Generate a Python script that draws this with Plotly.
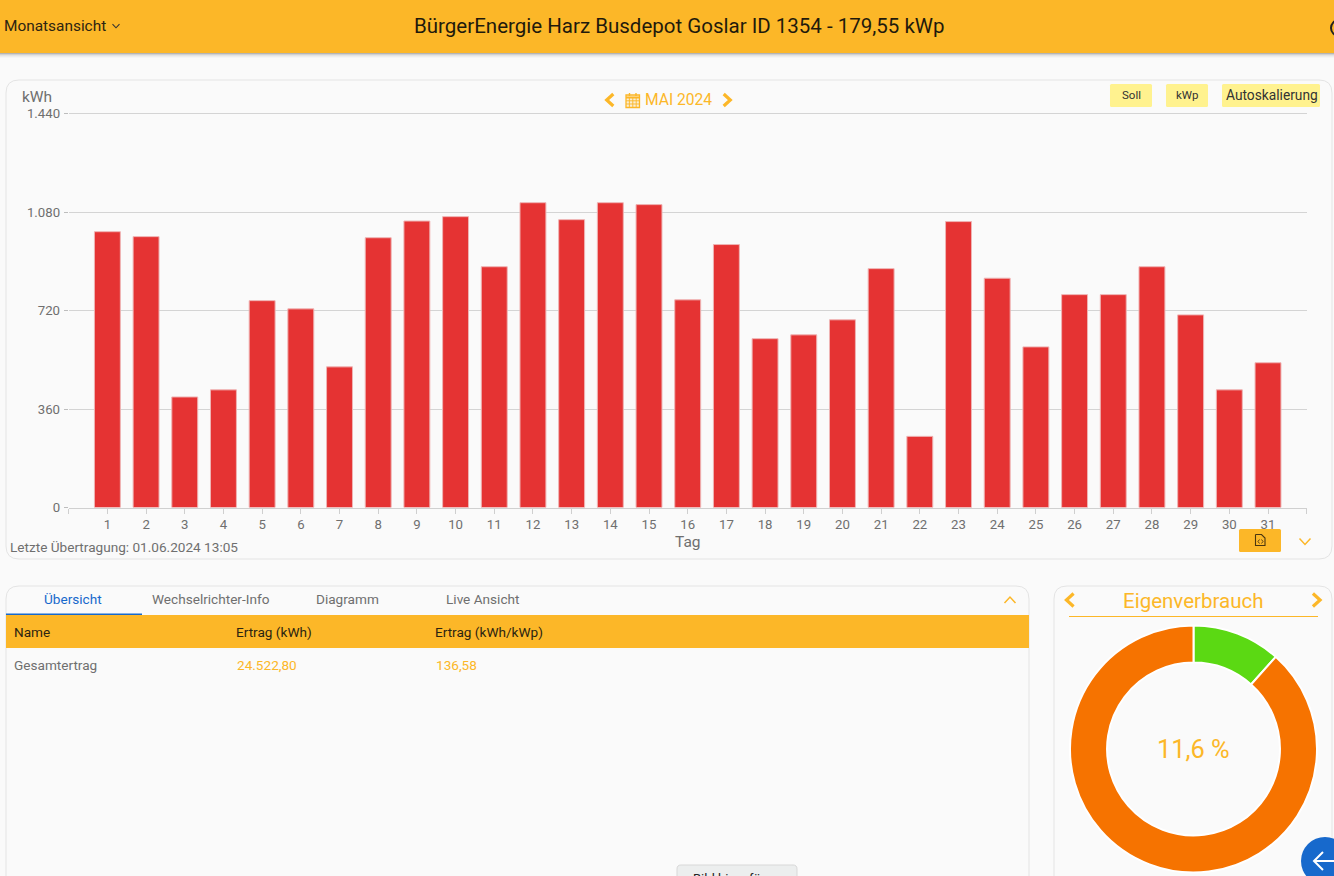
import plotly.graph_objects as go

W, H = 1334, 876

days = list(range(1, 32))
ertrag = [1008, 990, 404, 430, 756, 726, 514, 986, 1047, 1063, 880, 1114, 1052, 1114, 1107, 759,
          961, 617, 631, 686, 873, 260, 1045, 838, 587, 778, 778, 880, 704, 430, 529]
y_ticks = [0, 360, 720, 1080, 1440]
y_labels = ["0", "360", "720", "1.080", "1.440"]
x_ticks = list(range(0, 33))
x_labels = [""] + [str(d) for d in days] + [""]
pie_labels = ["Eigenverbrauch", "Einspeisung"]
pie_values = [11.6, 88.4]

ORANGE = "#FCB728"
GREY = "#6f6f6f"
BG = "#FAFAFA"
FONT = "Roboto"


def fx(x):
    return x / W


def fy(y):
    return 1 - y / H


def path(points, close=False):
    s = "M " + " L ".join(f"{fx(x):.5f},{fy(y):.5f}" for x, y in points)
    return s + (" Z" if close else "")


def rrect(x0, y0, x1, y1, r):
    k = [(x0 + r, y0), (x1 - r, y0), (x1, y0 + r), (x1, y1 - r), (x1 - r, y1), (x0 + r, y1), (x0, y1 - r), (x0, y0 + r)]
    p = lambda q: f"{fx(q[0]):.5f},{fy(q[1]):.5f}"
    return (f"M {p(k[0])} L {p(k[1])} Q {p((x1, y0))} {p(k[2])} L {p(k[3])} Q {p((x1, y1))} {p(k[4])} "
            f"L {p(k[5])} Q {p((x0, y1))} {p(k[6])} L {p(k[7])} Q {p((x0, y0))} {p(k[0])} Z")


shapes = []


def rect(x0, y0, x1, y1, fill, layer="below"):
    shapes.append(dict(type="rect", xref="paper", yref="paper", x0=fx(x0), x1=fx(x1), y0=fy(y0), y1=fy(y1),
                       fillcolor=fill, line=dict(width=0), layer=layer))


def round_box(x0, y0, x1, y1, r, fill=None, line=None):
    shapes.append(dict(type="path", xref="paper", yref="paper", path=rrect(x0, y0, x1, y1, r),
                       fillcolor=fill or "rgba(0,0,0,0)",
                       line=dict(color=line or "rgba(0,0,0,0)", width=1 if line else 0), layer="below"))


def poly(points, color, width=1.0, layer="above"):
    shapes.append(dict(type="path", xref="paper", yref="paper", path=path(points),
                       line=dict(color=color, width=width), layer=layer))


def chev_left(cx, cy, s, color, w=3.2):
    poly([(cx + s * 0.55, cy - s), (cx - s * 0.55, cy), (cx + s * 0.55, cy + s)], color, w)


def chev_right(cx, cy, s, color, w=3.2):
    poly([(cx - s * 0.55, cy - s), (cx + s * 0.55, cy), (cx - s * 0.55, cy + s)], color, w)


def chev_down(cx, cy, s, h, color, w=1.3):
    poly([(cx - s, cy - h), (cx, cy + h), (cx + s, cy - h)], color, w)


def chev_up(cx, cy, s, h, color, w=1.3):
    poly([(cx - s, cy + h), (cx, cy - h), (cx + s, cy + h)], color, w)


# header with its shadow
for i, a in enumerate([0.28, 0.16, 0.09, 0.05, 0.02]):
    rect(0, 53 + i, W, 54 + i, f"rgba(0,0,0,{a})")
rect(0, 0, W, 53, ORANGE)
shapes.append(dict(type="circle", xref="paper", yref="paper", x0=fx(1331), x1=fx(1347), y0=fy(36), y1=fy(20),
                   line=dict(color="#222", width=2), fillcolor="rgba(0,0,0,0)", layer="above"))
chev_down(116, 26, 3.5, 1.8, "#333", 1.1)

# panels
BORDER = "#E4E4E4"
round_box(6, 80, 1332, 559, 13, line=BORDER)
round_box(6, 586, 1029, 900, 13, line=BORDER)
round_box(1054, 586, 1332, 900, 13, line=BORDER)

# month navigation
chev_left(610, 100, 6, ORANGE)
chev_right(727, 100, 6, ORANGE)
shapes.append(dict(type="rect", xref="paper", yref="paper", x0=fx(626), x1=fx(639.5), y0=fy(107.5), y1=fy(95),
                   line=dict(color=ORANGE, width=1.3), fillcolor="rgba(252,183,40,0.18)", layer="above"))
poly([(626, 97.5), (639.5, 97.5)], ORANGE, 2)
poly([(626, 100.8), (639.5, 100.8)], ORANGE, 0.9)
poly([(626, 104), (639.5, 104)], ORANGE, 0.9)
poly([(629.4, 98), (629.4, 107.5)], ORANGE, 0.9)
poly([(632.8, 98), (632.8, 107.5)], ORANGE, 0.9)
poly([(636.2, 98), (636.2, 107.5)], ORANGE, 0.9)
poly([(629.5, 93), (629.5, 96)], ORANGE, 1.4)
poly([(636, 93), (636, 96)], ORANGE, 1.4)

# yellow buttons
YEL = "#FFF28F"
round_box(1110, 84, 1152, 107, 1.5, fill=YEL)
round_box(1166, 84, 1208, 107, 1.5, fill=YEL)
round_box(1222, 84, 1320, 107, 1.5, fill=YEL)

# export button
ICON = "#4a3610"
round_box(1239, 529, 1281, 552, 1.5, fill=ORANGE)
poly([(1255.5, 534.5), (1261.5, 534.5), (1265, 538), (1265, 545.5), (1255.5, 545.5), (1255.5, 534.5)], ICON, 1.1)
poly([(1259.5, 539.5), (1258, 541.5), (1259.5, 543.5)], ICON, 0.9)
poly([(1261.5, 539.5), (1263, 541.5), (1261.5, 543.5)], ICON, 0.9)
chev_down(1305, 541.5, 5.5, 3, ORANGE, 1.5)

# table
rect(6, 615, 1029, 648, ORANGE)
rect(6, 613.5, 142, 615, "#1769CC")
chev_up(1010, 600, 5.5, 3, ORANGE, 1.5)

# donut header
chev_left(1070, 600, 6.5, ORANGE)
chev_right(1316.5, 600, 6.5, ORANGE)
rect(1069, 616, 1318, 617, ORANGE)

# bottom button (cut off by the page edge)
round_box(677, 865, 797, 895, 4, fill="#ECEEEE", line="#D8D8D8")

# blue floating button
shapes.append(dict(type="circle", xref="paper", yref="paper", x0=fx(1301), x1=fx(1349), y0=fy(885), y1=fy(837),
                   fillcolor="#1769CC", line=dict(width=0), layer="above"))
poly([(1323, 852), (1314, 861), (1323, 870)], "white", 2)
poly([(1314, 861), (1334, 861)], "white", 2)

annotations = []


def text(x, y, s, size, color, anchor="left"):
    annotations.append(dict(xref="paper", yref="paper", x=fx(x - (1 if anchor == "left" else 0)), y=fy(y), text=s,
                            showarrow=False, xanchor=anchor, yanchor="middle", borderpad=0,
                            font=dict(family=FONT, size=size, color=color)))


text(4, 26, "Monatsansicht", 15.4, "#2c2411")
text(679.5, 26, "BürgerEnergie Harz Busdepot Goslar ID 1354 - 179,55 kWp", 20.5, "#1f1a0c", "center")
text(22, 97, "kWh", 15.5, GREY)
text(644.5, 100, "MAI 2024", 15.6, ORANGE)
text(1131, 95.5, "Soll", 11.5, "#333", "center")
text(1187, 95.5, "kWp", 11.5, "#333", "center")
text(1272, 95.5, "Autoskalierung", 13.75, "#333", "center")
text(687.5, 542, "Tag", 15.5, GREY, "center")
text(10, 546.5, "Letzte Übertragung: 01.06.2024 13:05", 13.6, GREY)
text(73, 598.5, "Übersicht", 13.6, "#1769CC", "center")
text(210.5, 598.5, "Wechselrichter-Info", 13.6, GREY, "center")
text(347, 598.5, "Diagramm", 13.6, GREY, "center")
text(482.5, 598.5, "Live Ansicht", 13.6, GREY, "center")
text(14, 631.5, "Name", 13.6, "#2c2411")
text(235.5, 631.5, "Ertrag (kWh)", 13.6, "#2c2411")
text(434.5, 631.5, "Ertrag (kWh/kWp)", 13.6, "#2c2411")
text(14, 664.5, "Gesamtertrag", 13.6, GREY)
text(237, 664.5, "24.522,80", 13.6, ORANGE)
text(436, 664.5, "136,58", 13.6, ORANGE)
text(1193, 601, "Eigenverbrauch", 20.5, ORANGE, "center")
text(1193, 749, "11,6 %", 25.4, ORANGE, "center")
text(737, 878, "Bild hinzufügen", 13, "#222", "center")

fig = go.Figure()
fig.add_trace(go.Bar(x=days, y=ertrag, width=0.67, name="Ertrag",
                     marker=dict(color="#E53333", line=dict(color="#EFB4B4", width=1))))
fig.add_trace(go.Pie(labels=pie_labels, values=pie_values, hole=0.70, sort=False, direction="clockwise",
                     rotation=0, textinfo="none", showlegend=False,
                     marker=dict(colors=["#5BD913", "#F67300"], line=dict(color="white", width=2)),
                     domain=dict(x=[fx(1070), fx(1317)], y=[fy(872.5), fy(625.5)])))

fig.update_layout(
    width=W, height=H, margin=dict(l=0, r=0, t=0, b=0, autoexpand=False), autosize=False,
    paper_bgcolor=BG, plot_bgcolor=BG, showlegend=False, bargap=0.33,
    font=dict(family=FONT, size=13, color=GREY),
    shapes=shapes, annotations=annotations,
    xaxis=dict(domain=[fx(68.7), fx(1306.7)], range=[0, 32], tickmode="array", tickvals=x_ticks, ticktext=x_labels,
               ticks="outside", ticklen=5, tickcolor="#CFCFCF", tickwidth=1, showgrid=False, showline=True,
               linecolor="#D0D0D0", linewidth=1, zeroline=False, tickfont=dict(family=FONT, size=13.2, color=GREY),
               fixedrange=True),
    yaxis=dict(domain=[fy(507.5), fy(111.86)], range=[0, 1446], tickmode="array", tickvals=y_ticks, ticktext=y_labels,
               ticks="outside", ticklen=4, tickcolor="#BDBDBD", tickwidth=1, showgrid=True, gridcolor="#D4D4D4",
               gridwidth=1, zeroline=False, showline=False, ticklabelstandoff=1,
               tickfont=dict(family=FONT, size=13.2, color=GREY), fixedrange=True),
)

fig.write_html("out.html", config=dict(displayModeBar=False),
               post_script="document.body.style.margin='0';document.body.style.overflow='hidden';document.body.style.background='#FAFAFA';")
